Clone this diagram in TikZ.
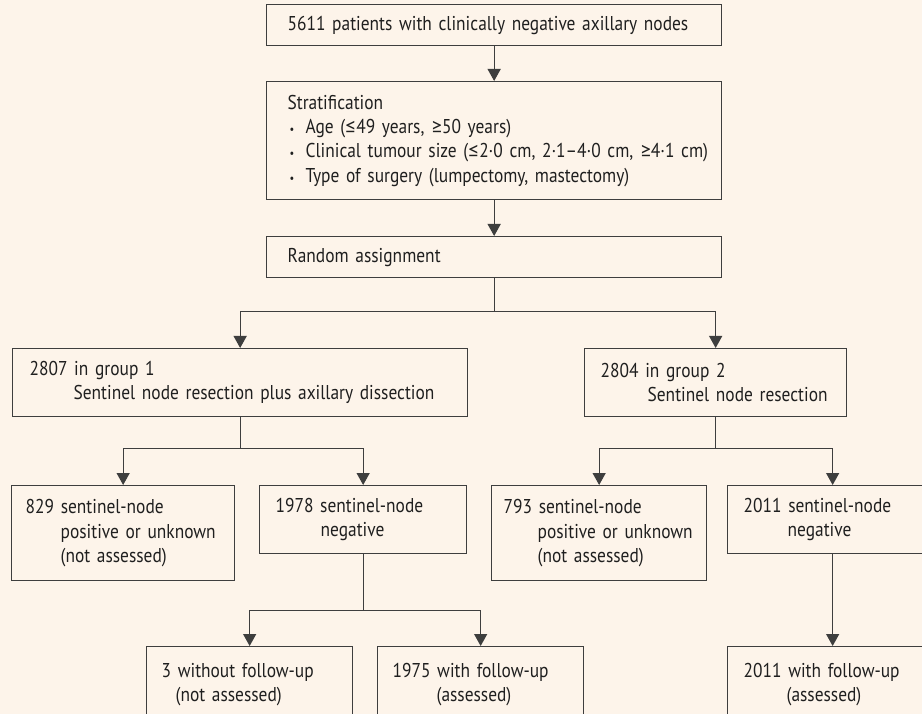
\documentclass[tikz,border=0pt]{standalone}
\usepackage{fontspec}
\setmainfont{PT Sans}[FakeStretch=0.87, WordSpace=0.5]
\newfontfamily\simb{Carlito}[Scale=1.1]
\usetikzlibrary{arrows.meta}
\definecolor{papel}{RGB}{253,244,234}
\definecolor{tinta}{RGB}{62,62,62}
\newcommand{\punto}{\makebox[18pt][l]{\hspace*{2pt}{\fontsize{12}{12}\selectfont •}}}
\newcommand{\menig}{{\simb ≤}}
\newcommand{\mayig}{{\simb ≥}}

\begin{document}
\begin{tikzpicture}[x=1pt,y=-1pt,line width=1.3pt,>={Triangle[width=13pt,length=12pt]},
caja/.style ={rectangle, draw=tinta, line width=1.3pt, anchor=north west, align=left, inner xsep=15pt, inner ysep=0pt, text=black!88, font=\fontsize{20}{24.3}\selectfont},
ancha/.style ={caja, inner xsep=21pt, text width=413pt}
]
\path[fill=papel,use as bounding box] (0,0) rectangle (922,714);
\clip (0,0) rectangle (922,714);
\draw (266,4) node[ancha, minimum height=41pt] (pac) {\mbox{5611 patients with clinically negative axillary nodes}};
\draw (266,81) node[ancha, minimum height=118pt] (estr) {Stratification\\
\punto\mbox{Age (\menig49 years, \mayig50 years)}\\
\punto\mbox{Clinical tumour size (\menig2·0 cm, 2·1–4·0 cm, \mayig4·1 cm)}\\
\punto\mbox{Type of surgery (lumpectomy, mastectomy)}};
\draw (266,236) node[ancha, minimum height=41pt] (azar) {Random assignment};
\draw (12,348) node[caja, inner xsep=17pt, text width=421pt, minimum height=68pt] (g1) {2807 in group 1\\\hspace*{44pt}\mbox{Sentinel node resection plus axillary dissection}};
\draw (584,348) node[caja, inner xsep=16pt, text width=230pt, minimum height=68pt] (g2) {2804 in group 2\\\hspace*{47pt}\mbox{Sentinel node resection}};
\draw (11,485) node[caja, inner xsep=14pt, text width=195pt, minimum height=95pt] (pos1) {829 sentinel-node\\\hspace*{35pt}\mbox{positive or unknown}\\\hspace*{35pt}(not assessed)};
\draw (259,485) node[caja, inner xsep=16pt, text width=175pt, minimum height=68pt] (neg1) {\mbox{1978 sentinel-node}\\\hspace*{45pt}negative};
\draw (491,485) node[caja, inner xsep=12pt, text width=191pt, minimum height=95pt] (pos2) {793 sentinel-node\\\hspace*{34pt}\mbox{positive or unknown}\\\hspace*{34pt}(not assessed)};
\draw (727,485) node[caja, inner xsep=16pt, text width=178pt, minimum height=68pt] (neg2) {\mbox{2011 sentinel-node}\\\hspace*{44pt}negative};
\draw (146,646) node[caja, text width=176pt, minimum height=76pt] (sin1) {\mbox{3 without follow-up}\\\hspace*{14pt}(not assessed)};
\draw (377,646) node[caja, text width=176pt, minimum height=76pt] (con1) {\mbox{1975 with follow-up}\\\hspace*{44pt}(assessed)};
\draw (727,646) node[caja, inner xsep=16pt, text width=178pt, minimum height=76pt] (con2) {\mbox{2011 with follow-up}\\\hspace*{43pt}(assessed)};
\draw[->,tinta] (pac)--(estr);
\draw[->,tinta] (estr)--(azar);
\draw[->,tinta] (azar.south)--++(0,33) -| (g1.north);
\draw[->,tinta] (azar.south)--++(0,33) -| (g2.north);
\draw[->,tinta] (g1.south)--++(0,31) -| (pos1.north);
\draw[->,tinta] (g1.south)--++(0,31) -| (neg1.north);
\draw[->,tinta] (g2.south)--++(0,31) -| (pos2.north);
\draw[->,tinta] (g2.south)--++(0,31) -| (neg2.north);
\draw[->,tinta] (neg1.south)--++(0,56) -| (sin1.north);
\draw[->,tinta] (neg1.south)--++(0,56) -| (con1.north);
\draw[->,tinta] (neg2)--(con2);
\end{tikzpicture}
\end{document}
